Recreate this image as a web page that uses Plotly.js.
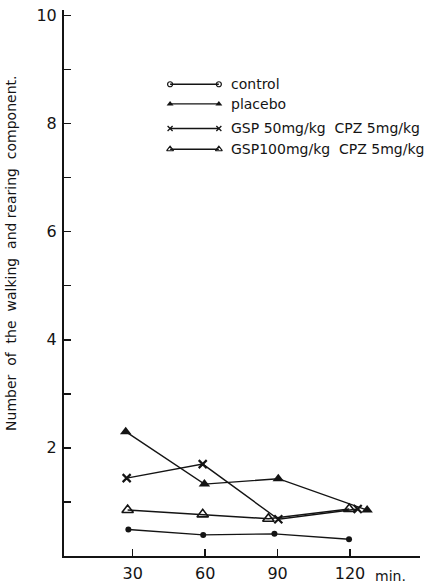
<!DOCTYPE html>
<html>
<head>
<meta charset="utf-8">
<script src="https://cdn.plot.ly/plotly-3.0.1.min.js"></script>
<style>
  html, body { margin: 0; padding: 0; background: #fff; }
  #chart { width: 429px; height: 586px; }
</style>
</head>
<body>
<div id="chart"></div>
<script>
// Walking and rearing counts after dosing, four groups (time in min).
const controlX = [28.2, 59.2, 88.7, 119.6];
const controlY = [0.49, 0.39, 0.41, 0.31];

const placeboX = [27.1, 59.7, 90.3, 127.1];
const placeboY = [2.30, 1.33, 1.43, 0.85];

const gsp50X = [27.5, 59.0, 90.3, 123.2];
const gsp50Y = [1.44, 1.70, 0.68, 0.87];

const gsp100X = [27.9, 59.0, 86.2, 119.7];
const gsp100Y = [0.85, 0.77, 0.69, 0.87];

const xTicks = [30, 60, 90, 120];
const yTicks = [2, 4, 6, 8, 10];
const yMinorTicks = [1, 3, 5, 7, 9];

const legendNames = ['control', 'placebo', 'GSP 50mg/kg  CPZ 5mg/kg', 'GSP100mg/kg  CPZ 5mg/kg'];

const ink = '#141414';
const font = 'DejaVu Sans, sans-serif';

// marker styles for the plotted series and their legend samples
const styles = [
  { plot: { symbol: 'circle', size: 6, color: ink },
    key:  { symbol: 'circle-open', size: 5, color: ink, line: { width: 1.2, color: ink } } },
  { plot: { symbol: 'triangle-up', size: 10, color: ink },
    key:  { symbol: 'triangle-up', size: 6, color: ink } },
  { plot: { symbol: 'x-thin-open', size: 8, color: ink, line: { width: 2.2, color: ink } },
    key:  { symbol: 'x-thin-open', size: 5, color: ink, line: { width: 1.3, color: ink } } },
  { plot: { symbol: 'triangle-up-open', size: 10, color: ink, line: { width: 1.6, color: ink } },
    key:  { symbol: 'triangle-up-open', size: 6, color: ink, line: { width: 1.2, color: ink } } }
];

const series = [
  [controlX, controlY],
  [placeboX, placeboY],
  [gsp50X, gsp50Y],
  [gsp100X, gsp100Y]
];

const traces = series.map((s, i) => ({
  x: s[0], y: s[1],
  type: 'scatter', mode: 'lines+markers',
  line: { color: ink, width: 1.4 },
  marker: styles[i].plot,
  name: legendNames[i],
  showlegend: false,
  hoverinfo: 'skip'
}));

// hand-drawn key: a short rule with a marker at each end, on an overlay axis
const keyLeft = 0.298, keyRight = 0.435, keyText = 0.463;
const keyRows = [0.864, 0.828, 0.783, 0.745];

keyRows.forEach((ry, i) => {
  traces.push({
    x: [keyLeft, keyRight], y: [ry, ry],
    xaxis: 'x2', yaxis: 'y2',
    type: 'scatter', mode: 'lines+markers',
    line: { color: ink, width: 1.3 },
    marker: styles[i].key,
    showlegend: false, hoverinfo: 'skip'
  });
});

const annotations = keyRows.map((ry, i) => ({
  xref: 'paper', yref: 'paper',
  x: keyText, y: ry,
  xanchor: 'left', yanchor: 'middle',
  text: legendNames[i].replace(/ /g, '&nbsp;'),
  showarrow: false,
  font: { family: font, size: 14, color: ink }
}));

annotations.push({
  xref: 'paper', yref: 'paper',
  x: -0.149, y: 0.555,
  xanchor: 'center', yanchor: 'middle',
  text: 'Number&nbsp; of&nbsp; the&nbsp; walking&nbsp; and rearing&nbsp; component.',
  textangle: -90,
  showarrow: false,
  font: { family: font, size: 14, color: ink }
});

annotations.push({
  xref: 'paper', yref: 'paper',
  x: 0.916, y: -0.036,
  xanchor: 'center', yanchor: 'middle',
  text: 'min.',
  showarrow: false,
  font: { family: font, size: 14, color: ink }
});

const layout = {
  width: 429, height: 586,
  margin: { l: 64, r: 9, t: 10, b: 30 },
  paper_bgcolor: '#fff', plot_bgcolor: '#fff',
  font: { family: font, color: ink },
  showlegend: false,
  xaxis: {
    range: [1.54, 149.0],
    tickmode: 'array', tickvals: xTicks,
    ticks: 'inside', ticklen: 7, tickwidth: 1.5, tickcolor: ink,
    showline: true, linecolor: ink, linewidth: 2,
    showgrid: false, zeroline: false,
    tickfont: { family: font, size: 16, color: ink },
    ticklabelstandoff: 2
  },
  yaxis: {
    range: [0, 10.1],
    tickmode: 'array', tickvals: yTicks,
    ticks: 'inside', ticklen: 7, tickwidth: 1.5, tickcolor: ink,
    minor: { tickmode: 'array', tickvals: yMinorTicks, ticks: 'inside', ticklen: 7, tickwidth: 1.5, tickcolor: ink },
    showline: true, linecolor: ink, linewidth: 2,
    showgrid: false, zeroline: false,
    tickfont: { family: font, size: 16, color: ink },
    ticklabelstandoff: 2
  },
  xaxis2: { overlaying: 'x', range: [0, 1], visible: false, anchor: 'y2' },
  yaxis2: { overlaying: 'y', range: [0, 1], visible: false, anchor: 'x2' },
  annotations: annotations
};

Plotly.newPlot('chart', traces, layout, { staticPlot: true, displayModeBar: false });
</script>
</body>
</html>
